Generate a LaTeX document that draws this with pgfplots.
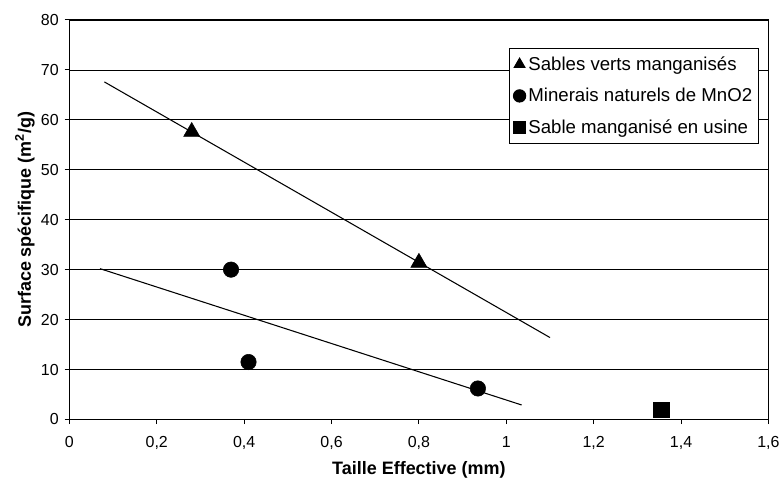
\documentclass[border=0pt]{standalone}
\usepackage{pgfplots}
\pgfplotsset{compat=1.18}
\usepackage{fontspec}
\setmainfont{Liberation Sans}
\begin{document}
\begin{tikzpicture}
\begin{axis}[
  scale only axis,
  width=525pt, height=300pt,
  xmin=0, xmax=1.6, ymin=0, ymax=80,
  xtick={0,0.2,...,1.6},
  xticklabels={0,{0,2},{0,4},{0,6},{0,8},1,{1,2},{1,4},{1,6}},
  ytick={0,10,...,80},
  ymajorgrids, grid style={black, line width=0.6pt},
  axis line style={black, line width=0.8pt},
  tick style={black, line width=0.8pt},
  tick align=outside, tick pos=left,
  major tick length=3.5pt,
  /pgf/number format/assume math mode=true,
  ticklabel style={font=\fontsize{12}{14}\selectfont},
  xticklabel style={yshift=-5.5pt},
  yticklabel style={xshift=-1pt},
  xlabel={\textbf{Taille Effective (mm)}},
  ylabel={\textbf{Surface spécifique (m\textsuperscript{2}/g)}},
  label style={font=\fontsize{13.5}{15}\selectfont},
  xlabel style={at={(axis description cs:0.5,-0.125)}, anchor=center},
  ylabel style={at={(axis description cs:-0.0636,0.5)}, anchor=center},
  legend style={at={(rel axis cs:0.987,0.93)}, anchor=north east, draw=black, line width=0.8pt,
    font=\fontsize{14}{16}\selectfont, row sep=8pt, inner xsep=3pt, inner ysep=4pt,
    nodes={inner xsep=2pt}},
  legend cell align=left,
  legend image code/.code={\path[#1, mark size=4.6pt] plot coordinates {(0.17cm,0cm)};},
]
\addplot[only marks, mark=triangle*, mark size=7pt, black] coordinates {(0.28,57.6) (0.80,31.4)};
\addlegendentry{Sables verts manganisés}
\addplot[only marks, mark=*, mark size=5.8pt, black] coordinates {(0.37,30.0) (0.41,11.5) (0.935,6.2)};
\addlegendentry{Minerais naturels de MnO2}
\addplot[only marks, mark=square*, mark size=5.8pt, black] coordinates {(1.355,1.9)};
\addlegendentry{Sable manganisé en usine}
\addplot[black, line width=0.8pt, forget plot] coordinates {(0.08,67.6) (1.10,16.4)};
\addplot[black, line width=0.8pt, forget plot] coordinates {(0.07,30.2) (1.035,2.9)};
\end{axis}
\path (current axis.south west) ++(-52.1pt,-46.5pt);
\path (current axis.north east) ++(11.25pt,15pt);
\end{tikzpicture}
\end{document}
